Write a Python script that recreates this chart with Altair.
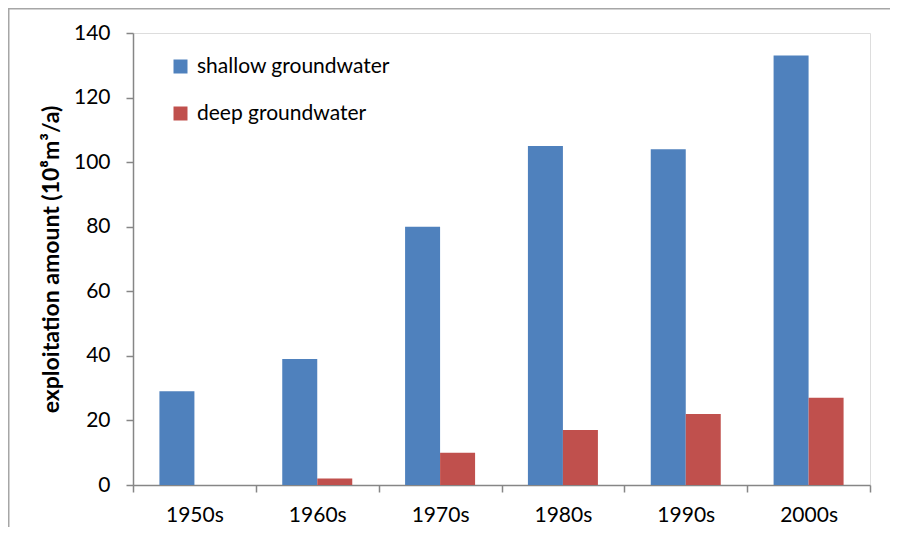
import altair as alt
import pandas as pd

categories = ["1950s", "1960s", "1970s", "1980s", "1990s", "2000s"]
shallow = [29, 39, 80, 105, 104, 133]
deep = [0, 2, 10, 17, 22, 27]
series_names = ["shallow groundwater", "deep groundwater"]
series_colors = ["#4F81BD", "#C0504D"]
y_ticks = [0, 20, 40, 60, 80, 100, 120, 140]

rows = []
for c, s, d in zip(categories, shallow, deep):
    rows.append({"decade": c, "series": series_names[0], "value": s})
    rows.append({"decade": c, "series": series_names[1], "value": d})
df = pd.DataFrame(rows)

FONT = "Lato"
AXIS_GRAY = "#868686"

bars = alt.Chart(df).mark_bar().encode(
    x=alt.X("decade:N", sort=categories,
            scale=alt.Scale(paddingInner=0, paddingOuter=0),
            axis=alt.Axis(title=None, labelAngle=0, tickBand="extent",
                          labelFontSize=21, labelFont=FONT, labelColor="black",
                          labelPadding=12, tickSize=7, domainColor=AXIS_GRAY,
                          tickColor=AXIS_GRAY, domainWidth=1.5, tickWidth=1.5)),
    xOffset=alt.XOffset("series:N", sort=series_names,
                        scale=alt.Scale(paddingInner=0, paddingOuter=0.7547)),
    y=alt.Y("value:Q",
            scale=alt.Scale(domain=[0, 140], nice=False),
            axis=alt.Axis(title="exploitation amount (10⁸m³/a)", values=y_ticks,
                          grid=False, labelFontSize=21, labelFont=FONT,
                          labelColor="black", labelPadding=16, tickSize=7,
                          domainColor=AXIS_GRAY, tickColor=AXIS_GRAY,
                          domainWidth=1.5, tickWidth=1.5,
                          titleFont=FONT, titleFontSize=23, titleFontWeight="bold",
                          titleColor="black", titlePadding=10)),
    color=alt.Color("series:N", sort=series_names,
                    scale=alt.Scale(domain=series_names, range=series_colors),
                    legend=alt.Legend(title=None, orient="none", legendX=37, legendY=23,
                                      symbolType="square", symbolSize=196,
                                      symbolStrokeWidth=0, labelFont=FONT,
                                      labelFontSize=21, labelColor="black",
                                      labelLimit=0, rowPadding=25, labelOffset=6)),
)

frame_df = pd.DataFrame({"k": [0]})
frame_top = alt.Chart(frame_df).mark_rect(color="#A6A6A6", strokeWidth=0).encode(
    x=alt.value(-125), x2=alt.value(757), y=alt.value(-25), y2=alt.value(-23.5))
frame_left = alt.Chart(frame_df).mark_rect(color="#A6A6A6", strokeWidth=0).encode(
    x=alt.value(-125), x2=alt.value(-123.5), y=alt.value(-25), y2=alt.value(494))

chart = alt.layer(frame_top, frame_left, bars).properties(
    width=737, height=452,
    padding={"left": 125, "top": 25, "right": 20, "bottom": 42},
    autosize=alt.AutoSizeParams(type="none"),
).configure_view(stroke=None).configure(background="white")

chart.save("out.html", embed_options={"renderer": "svg", "actions": False})
